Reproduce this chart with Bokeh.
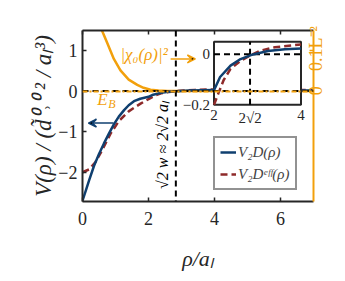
import numpy as np
from bokeh.plotting import figure
from bokeh.models import (Range1d, LinearAxis, FixedTicker, Span, Label, Arrow,
                          VeeHead, Legend, LegendItem)
from bokeh.embed import file_html
from bokeh.resources import INLINE
from bokeh.core.properties import value

# ---------------- data ----------------
rho_v2d = [0.0, 0.1, 0.2, 0.35, 0.5, 0.65, 0.8, 0.95, 1.1, 1.26, 1.4, 1.56, 1.75,
           2.0, 2.14, 2.38, 2.61, 2.85, 3.24, 3.63, 4.0, 4.5, 5.0, 6.0, 7.0]
v2d = [-2.70, -2.45, -2.20, -1.84, -1.55, -1.29, -1.05, -0.82, -0.63, -0.47, -0.35,
       -0.25, -0.19, -0.143, -0.09, -0.045, -0.019, -0.003, 0.013, 0.020, 0.023,
       0.022, 0.020, 0.014, 0.010]

rho_eff = [0.0, 0.2, 0.4, 0.6, 0.85, 1.1, 1.4, 1.76, 2.0, 2.1, 2.22, 2.38, 2.61,
           2.85, 3.08, 3.4, 4.0, 4.5, 5.0, 6.0, 7.0]
v_eff = [-2.0, -1.93, -1.74, -1.45, -1.05, -0.74, -0.50, -0.31, -0.20, -0.155,
         -0.103, -0.058, -0.026, -0.003, 0.015, 0.028, 0.039, 0.040, 0.038, 0.030,
         0.022]

# |chi_0(rho)|^2 in units of L^-2 (right axis)
rho_chi = [0.0, 0.3, 0.5, 0.6, 0.75, 0.95, 1.15, 1.4, 1.66, 1.85, 2.06, 2.3, 2.57,
           3.0, 4.0, 5.0, 6.0, 7.0]
chi2 = [0.21, 0.19, 0.165, 0.147, 0.118, 0.079, 0.051, 0.028, 0.015, 0.008, 0.003,
        0.001, 0.0, 0.0, 0.0, 0.0, 0.0, 0.0]

E_B = -0.01                    # binding energy level
W_LINE = 2 * np.sqrt(2)        # sqrt(2) w ~ 2 sqrt(2) a_L

x_ticks = [0, 2, 4, 6]
y_ticks = [-2, -1, 0, 1]
y_tick_labels = {-2: "\u22122", -1: "\u22121", 0: "0", 1: "1"}
right_ticks = [0, 0.1]
right_tick_labels = ["0", "0.1L\u207b\u00b2"]
inset_x_ticks = [2, W_LINE, 4]
inset_x_labels = ["2", "2\u221a2", "4"]
inset_y_ticks = [-0.2, 0]
inset_y_labels = ["\u22120.2", "0"]

X_RANGE = (0, 7)
Y_RANGE = (-2.72, 1.49)
INSET_X = (2, 4)
INSET_Y = (-0.2, 0.05)

# ---------------- layout ----------------
W, H = 340, 273
BL, BR, BT, BB = 82, 27, 30, 64
FW, FH = W - BL - BR, H - BT - BB
# inset box in frame pixels (left, right from frame left; top, bottom from frame top)
IL, IR, IT, IB = 131.5, 218.5, 11.7, 77.7
# approximate rendered widths (px) of the rotated right-axis labels, used to centre them
RIGHT_LABEL_PX = [9, 43]

sx = (INSET_X[1] - INSET_X[0]) / (IR - IL)
sy = (INSET_Y[1] - INSET_Y[0]) / (IB - IT)
ix_range = Range1d(INSET_X[0] - IL * sx, INSET_X[1] + (FW - IR) * sx)
iy_range = Range1d(INSET_Y[0] - (FH - IB) * sy, INSET_Y[1] + IT * sy)
right_range = Range1d(Y_RANGE[0] * 0.1, Y_RANGE[1] * 0.1)
r_per_px = (right_range.end - right_range.start) / FH

BLUE = "#0f3f6f"
RED = "#8e2a2a"
ORANGE = "#f2a00c"
DARK = "#262626"
SERIF = "Liberation Serif"

p = figure(width=W, height=H, output_backend="svg", toolbar_location=None,
           x_range=Range1d(*X_RANGE), y_range=Range1d(*Y_RANGE),
           min_border_left=BL, min_border_right=BR, min_border_top=BT,
           min_border_bottom=BB)
p.extra_y_ranges = {"right": right_range, "iy": iy_range}
p.extra_x_ranges = {"ix": ix_range}
p.grid.visible = False
p.outline_line_color = None
p.background_fill_color = "white"

def style_axis(ax, color=DARK):
    ax.axis_line_color = color
    ax.axis_line_width = 2
    ax.major_tick_line_color = color
    ax.major_tick_line_width = 1.5
    ax.major_tick_in = 4
    ax.major_tick_out = 0
    ax.minor_tick_line_color = None
    ax.major_label_text_font = SERIF
    ax.major_label_text_font_size = "18px"
    ax.major_label_text_color = color
    ax.axis_label_text_font = SERIF
    ax.axis_label_text_font_style = "italic"
    ax.axis_label_text_font_size = "20px"
    ax.axis_label_text_color = color

xa = p.xaxis[0]
style_axis(xa)
xa.ticker = FixedTicker(ticks=x_ticks)
xa.axis_label = "\u03c1/a\u2097"
xa.axis_label_text_font_size = "22px"
xa.major_label_standoff = 10
xa.axis_label_standoff = 18

ya = p.yaxis[0]
style_axis(ya)
ya.ticker = FixedTicker(ticks=y_ticks)
ya.major_label_overrides = y_tick_labels
ya.axis_label = "V(\u03c1) / (d\u0303\u2070\u02d2\u2070 \u00b2 / a\u2097\u00b3)"
ya.axis_label_text_font_size = "23px"
ya.major_label_standoff = 5
ya.axis_label_standoff = -1

top = LinearAxis(ticker=FixedTicker(ticks=x_ticks))
style_axis(top)
top.major_label_text_alpha = 0
top.major_label_text_font_size = "1px"
p.add_layout(top, "above")

# right axis: line + ticks
ra = LinearAxis(y_range_name="right", ticker=FixedTicker(ticks=right_ticks))
style_axis(ra, ORANGE)
ra.major_label_text_alpha = 0
ra.major_label_text_font_size = "1px"
ra.major_label_standoff = 0
p.add_layout(ra, "right")

# right axis: rotated labels centred on the ticks
label_pos = [t - 0.5 * w * r_per_px for t, w in zip(right_ticks, RIGHT_LABEL_PX)]
rl = LinearAxis(y_range_name="right", ticker=FixedTicker(ticks=label_pos))
style_axis(rl, ORANGE)
rl.axis_line_color = None
rl.major_tick_line_color = None
rl.major_label_overrides = dict(zip(label_pos, right_tick_labels))
rl.major_label_orientation = np.pi / 2
rl.major_label_standoff = 3
p.add_layout(rl, "right")

# reference lines
p.add_layout(Span(location=0, dimension="width", line_color="black",
                  line_width=2, line_dash="6 4"))
p.add_layout(Span(location=W_LINE, dimension="height", line_color="black",
                  line_width=2, line_dash="6 4"))
p.add_layout(Span(location=E_B, dimension="width", line_color=ORANGE,
                  line_width=2, line_dash="5 2 2 2"))

# curves
p.line(rho_chi, chi2, y_range_name="right", line_color=ORANGE, line_width=2.5)
r_eff = p.line(rho_eff, v_eff, line_color=RED, line_width=2.5, line_dash="7 4")
r_v2d = p.line(rho_v2d, v2d, line_color=BLUE, line_width=2.5)

# inset
p.quad(left=[INSET_X[0]], right=[INSET_X[1]], bottom=[INSET_Y[0]], top=[INSET_Y[1]],
       x_range_name="ix", y_range_name="iy", fill_color="white",
       line_color=DARK, line_width=2)
p.segment(x0=[INSET_X[0], W_LINE], y0=[0, INSET_Y[0]],
          x1=[INSET_X[1], W_LINE], y1=[0, INSET_Y[1]],
          x_range_name="ix", y_range_name="iy", line_color="black",
          line_width=2, line_dash="6 4")
rv = np.array(rho_v2d); vv = np.array(v2d)
mv = (rv >= INSET_X[0]) & (rv <= INSET_X[1])
re_ = np.array(rho_eff); ve = np.array(v_eff)
me = (re_ >= INSET_X[0]) & (re_ <= INSET_X[1])
p.line(re_[me], ve[me], x_range_name="ix", y_range_name="iy",
       line_color=RED, line_width=2.5, line_dash="7 4")
p.line(rv[mv], vv[mv], x_range_name="ix", y_range_name="iy",
       line_color=BLUE, line_width=2.5)
p.text(x=inset_x_ticks, y=[INSET_Y[0]] * 3, text=inset_x_labels,
       x_range_name="ix", y_range_name="iy", text_align="center",
       text_baseline="top", y_offset=5, text_font=value(SERIF),
       text_font_size="15px", text_color=DARK)
p.text(x=[INSET_X[0]] * 2, y=inset_y_ticks, text=inset_y_labels,
       x_range_name="ix", y_range_name="iy", text_align="right",
       text_baseline="middle", x_offset=-4, text_font=value(SERIF),
       text_font_size="15px", text_color=DARK)

# annotations
p.add_layout(Label(x=1.15, y=0.9, text="|\u03c7\u2080(\u03c1)|\u00b2",
                   text_color=ORANGE, text_font=SERIF, text_font_style="italic",
                   text_font_size="17px", text_baseline="middle"))
p.add_layout(Arrow(x_start=2.67, y_start=0.79, x_end=3.42, y_end=0.79,
                   line_color=ORANGE, line_width=1.5,
                   end=VeeHead(size=8, line_color=ORANGE, line_width=1.5)))
p.add_layout(Arrow(x_start=0.94, y_start=-0.79, x_end=0.18, y_end=-0.79,
                   line_color=BLUE, line_width=1.5,
                   end=VeeHead(size=8, line_color=BLUE, line_width=1.5)))
p.add_layout(Label(x=0.45, y=-0.2, text="E", text_color=ORANGE, text_font=SERIF,
                   text_font_style="italic", text_font_size="17px",
                   text_baseline="middle"))
p.add_layout(Label(x=0.45, y=-0.2, x_offset=11, y_offset=-5, text="B",
                   text_color=ORANGE, text_font=SERIF, text_font_style="italic",
                   text_font_size="12px", text_baseline="middle"))
p.add_layout(Label(x=2.42, y=-1.33, text="\u221a2 w \u2248 2\u221a2 a\u2097",
                   angle=np.pi / 2, text_color="black", text_font=SERIF,
                   text_font_style="italic", text_font_size="16px",
                   text_align="center", text_baseline="middle"))

legend = Legend(items=[LegendItem(label="V\u2082D(\u03c1)", renderers=[r_v2d]),
                       LegendItem(label="V\u2082D\u1d49\u1da0\u1da0(\u03c1)",
                                  renderers=[r_eff])],
                location=(131, 11))
legend.border_line_color = DARK
legend.border_line_width = 2
legend.background_fill_alpha = 1
legend.label_text_font = SERIF
legend.label_text_font_style = "italic"
legend.label_text_font_size = "15px"
legend.glyph_width = 16
legend.glyph_height = 18
legend.label_height = 18
legend.label_standoff = 2
legend.spacing = 4
legend.padding = 5
legend.margin = 0
p.add_layout(legend)

open("out.html", "w").write(file_html(p, INLINE))
